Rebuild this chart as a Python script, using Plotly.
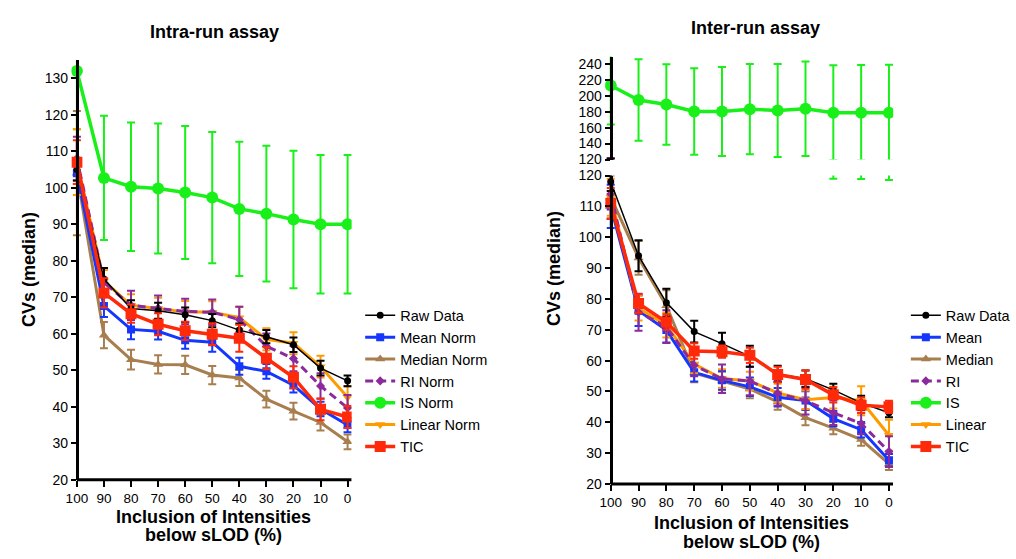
import plotly.graph_objects as go

# Inclusion of intensities below sLOD (%)
inclusion = [100, 90, 80, 70, 60, 50, 40, 30, 20, 10, 0]
x_ticks = [100, 90, 80, 70, 60, 50, 40, 30, 20, 10, 0]

# ---- Intra-run assay: median CVs with error bars ----
intra_raw = [105, 75.0, 66.9, 66.3, 65.2, 63.6, 61.0, 59.2, 57.0, 50.6, 47.1]
intra_raw_err = [3, 3.0, 2.3, 2.2, 2.0, 1.8, 1.8, 1.8, 2.0, 2.0, 1.5]
intra_mean = [104, 67.6, 61.2, 60.7, 58.2, 57.7, 51.1, 49.7, 45.9, 39.4, 35.0]
intra_mean_err = [3, 3.0, 2.7, 2.3, 2.3, 2.6, 2.3, 2.0, 2.0, 2.0, 2.0]
intra_median = [104, 59.6, 52.9, 51.6, 51.5, 48.7, 47.9, 42.1, 38.8, 35.7, 30.4]
intra_median_err = [17, 3.6, 2.7, 2.5, 2.5, 2.5, 2.2, 2.3, 2.3, 2.2, 2.0]
intra_ri = [108, 74.0, 67.8, 67.0, 66.1, 65.9, 63.9, 56.6, 53.2, 45.7, 39.7]
intra_ri_err = [6, 4.0, 4.0, 3.5, 3.5, 3.5, 3.5, 3.5, 3.5, 3.5, 3.5]
intra_is = [132, 102.7, 100.3, 99.8, 98.7, 97.3, 94.2, 92.9, 91.3, 90.0, 90.0]
intra_is_err = [16, 17.0, 17.6, 17.8, 18.2, 18.0, 18.4, 18.6, 18.8, 19.0, 19.0]
intra_linear = [107, 74.5, 67.8, 66.9, 66.0, 65.9, 64.4, 58.5, 57.4, 51.0, 42.6]
intra_linear_err = [9, 3.0, 3.0, 3.0, 3.0, 3.0, 3.0, 3.0, 3.0, 3.0, 3.0]
intra_tic = [107, 71.2, 65.5, 62.6, 60.8, 59.9, 58.8, 53.3, 48.1, 39.3, 37.2]
intra_tic_err = [6, 4.0, 2.5, 3.0, 2.5, 3.0, 3.7, 3.0, 3.0, 3.0, 3.0]

# ---- Inter-run assay: median CVs with error bars ----
inter_raw = [118, 94.0, 78.8, 69.4, 65.5, 61.4, 55.7, 54.1, 50.5, 46.3, 43.1]
inter_raw_err = [3, 5.0, 4.5, 3.5, 3.5, 3.4, 2.6, 2.7, 2.0, 2.3, 1.5]
inter_mean = [110, 76.2, 69.9, 56.2, 53.6, 51.5, 48.1, 47.1, 41.2, 37.6, 27.7]
inter_mean_err = [7, 5.0, 4.0, 3.0, 3.0, 3.0, 3.0, 3.0, 2.5, 2.5, 2.0]
inter_median = [113, 93.3, 77.8, 56.0, 53.4, 50.8, 46.6, 41.5, 38.1, 34.4, 26.5]
inter_median_err = [7, 5.5, 5.0, 3.0, 3.0, 3.0, 2.5, 2.5, 2.0, 2.0, 2.0]
inter_ri = [114, 75.7, 71.0, 58.4, 54.1, 53.4, 49.4, 47.0, 43.1, 39.6, 30.5]
inter_ri_err = [8, 6.0, 5.3, 3.5, 4.6, 4.6, 4.0, 4.5, 4.0, 3.5, 5.0]
inter_is = [212.8, 194.6, 188.9, 180.2, 180.2, 183.1, 181.5, 183.5, 178.6, 178.6, 178.6]
inter_is_err = [49, 51.0, 50.5, 54.2, 55.8, 56.5, 58.3, 59.2, 59.6, 59.7, 60.0]
inter_linear = [113, 77.0, 71.5, 58.9, 54.2, 53.4, 49.5, 47.3, 48.0, 47.0, 35.8]
inter_linear_err = [6, 4.0, 4.0, 3.0, 3.0, 3.0, 3.0, 3.0, 3.5, 4.7, 5.0]
inter_tic = [111, 78.5, 72.5, 63.1, 62.9, 61.7, 55.5, 53.9, 48.9, 45.5, 45.0]
inter_tic_err = [5, 3.0, 2.5, 2.5, 2.0, 2.5, 2.5, 3.0, 2.5, 2.5, 2.0]

intra_names = ["Raw Data", "Mean Norm", "Median Norm", "RI Norm", "IS Norm", "Linear Norm", "TIC"]
inter_names = ["Raw Data", "Mean", "Median", "RI", "IS", "Linear", "TIC"]

FONT = "Liberation Sans, Arial, Helvetica, sans-serif"

# style per method: colour, line width, dash, marker symbol, marker size
styles = {
    "raw": dict(color="#000000", width=1.5, dash="solid", symbol="circle", size=7),
    "mean": dict(color="#1536FF", width=3, dash="solid", symbol="square", size=8),
    "median": dict(color="#A97E4E", width=3, dash="solid", symbol="triangle-up", size=9),
    "ri": dict(color="#8A2A9C", width=3, dash="8px,5px", symbol="diamond", size=7),
    "is": dict(color="#19F019", width=3.5, dash="solid", symbol="circle", size=12),
    "linear": dict(color="#FF9A00", width=3, dash="solid", symbol="triangle-down", size=9),
    "tic": dict(color="#FF2A0A", width=3.5, dash="solid", symbol="square", size=11),
}
legend_rank = {"raw": 1, "mean": 2, "median": 3, "ri": 4, "is": 5, "linear": 6, "tic": 7}
# drawing order (later = on top)
draw_order = ["is", "median", "mean", "linear", "ri", "raw", "tic"]

intra = {
    "raw": (intra_raw, intra_raw_err), "mean": (intra_mean, intra_mean_err),
    "median": (intra_median, intra_median_err), "ri": (intra_ri, intra_ri_err),
    "is": (intra_is, intra_is_err), "linear": (intra_linear, intra_linear_err),
    "tic": (intra_tic, intra_tic_err),
}
inter = {
    "raw": (inter_raw, inter_raw_err), "mean": (inter_mean, inter_mean_err),
    "median": (inter_median, inter_median_err), "ri": (inter_ri, inter_ri_err),
    "is": (inter_is, inter_is_err), "linear": (inter_linear, inter_linear_err),
    "tic": (inter_tic, inter_tic_err),
}
keys = ["raw", "mean", "median", "ri", "is", "linear", "tic"]
intra_label = dict(zip(keys, intra_names))
inter_label = dict(zip(keys, inter_names))

fig = go.Figure()


def add_series(key, y, err, name, xaxis, yaxis, legend, showlegend):
    s = styles[key]
    fig.add_trace(go.Scatter(
        x=inclusion, y=y, name=name, mode="lines+markers",
        xaxis=xaxis, yaxis=yaxis, legend=legend, showlegend=showlegend,
        legendrank=legend_rank[key],
        line=dict(color=s["color"], width=s["width"], dash=s["dash"]),
        marker=dict(color=s["color"], symbol=s["symbol"], size=s["size"], line=dict(width=0)),
        error_y=dict(type="data", array=err, visible=True, color=s["color"], thickness=2, width=4),
        hoverinfo="skip",
    ))


for k in draw_order:
    y, e = intra[k]
    add_series(k, y, e, intra_label[k], "x", "y", "legend", True)
for k in draw_order:
    y, e = inter[k]
    add_series(k, y, e, inter_label[k], "x2", "y2", "legend2", True)
    # same series on the upper (broken) segment of the inter-run axis
    add_series(k, y, e, inter_label[k], "x3", "y3", "legend2", False)

# ---- axes geometry ----
x_range = [102, -1.5]
left_dom = [0.06496, 0.34291]
right_dom = [0.5944, 0.8801]


def axis_pos(dom):
    return dom[0] + (x_range[0] - 100) / (x_range[0] - x_range[1]) * (dom[1] - dom[0])


tickfont = dict(family=FONT, size=14, color="black")
xtickfont = dict(family=FONT, size=13.5, color="black")

xcommon = dict(range=x_range, tickmode="array", tickvals=x_ticks, ticktext=[str(v) for v in x_ticks],
               showline=False, showgrid=False, zeroline=False, ticks="outside", ticklen=6,
               tickwidth=2, tickcolor="black", tickfont=xtickfont)
ycommon = dict(showline=True, linewidth=3, linecolor="black", showgrid=False, zeroline=False,
               ticks="outside", ticklen=5, tickwidth=2, tickcolor="black", tickfont=tickfont,
               anchor="free")

fig.update_layout(
    xaxis=dict(domain=left_dom, anchor="y", **xcommon),
    yaxis=dict(domain=[0.13113, 0.90429], range=[20, 135], tickvals=list(range(20, 131, 10)),
               position=axis_pos(left_dom), **ycommon),
    xaxis2=dict(domain=right_dom, anchor="y2", **xcommon),
    yaxis2=dict(domain=[0.12343, 0.69141], range=[20, 120], tickvals=list(range(20, 121, 10)),
                position=axis_pos(right_dom), **ycommon),
    xaxis3=dict(domain=right_dom, anchor="y3", range=x_range, matches="x2", visible=False),
    yaxis3=dict(domain=[0.72093, 0.91055], range=[120, 249], tickvals=list(range(120, 241, 20)),
                position=axis_pos(right_dom), **ycommon),
)

# bottom axis lines, running from the y axis to the end of the range
for xr, yr in (("x", "y domain"), ("x2", "y2 domain")):
    fig.add_shape(type="line", xref=xr, yref=yr, x0=100, x1=x_range[1], y0=0, y1=0,
                  line=dict(color="black", width=3), layer="above")

W, H = 1016, 559


def px_x(v):
    return v / W


def px_y(v):
    return 1 - v / H


bold = dict(family=FONT, size=18, color="black")
annotations = [
    dict(text="<b>Intra-run assay</b>", x=px_x(210), y=px_y(25)),
    dict(text="<b>Inter-run assay</b>", x=px_x(755), y=px_y(21)),
    dict(text="<b>Inclusion of Intensities</b>", x=px_x(209), y=px_y(524)),
    dict(text="<b>below sLOD (%)</b>", x=px_x(209), y=px_y(543)),
    dict(text="<b>Inclusion of Intensities</b>", x=px_x(751), y=px_y(530)),
    dict(text="<b>below sLOD (%)</b>", x=px_x(751), y=px_y(550)),
    dict(text="<b>CVs (median)</b>", x=px_x(23), y=px_y(269), textangle=-90),
    dict(text="<b>CVs (median)</b>", x=px_x(553), y=px_y(268), textangle=-90),
]
for a in annotations:
    a.update(xref="paper", yref="paper", showarrow=False, xanchor="center", yanchor="middle",
             font=bold)

legend_common = dict(font=dict(family=FONT, size=14.5, color="black"), bgcolor="rgba(0,0,0,0)",
                     borderwidth=0, xanchor="left", yanchor="top", traceorder="normal",
                     itemclick=False, itemdoubleclick=False)

fig.update_layout(
    width=W, height=H, margin=dict(l=0, r=0, t=0, b=0),
    paper_bgcolor="white", plot_bgcolor="white",
    annotations=annotations,
    legend=dict(x=px_x(357), y=px_y(300), **legend_common),
    legend2=dict(x=px_x(907), y=px_y(300), **legend_common),
    showlegend=True,
)

fig.write_html("out.html")
